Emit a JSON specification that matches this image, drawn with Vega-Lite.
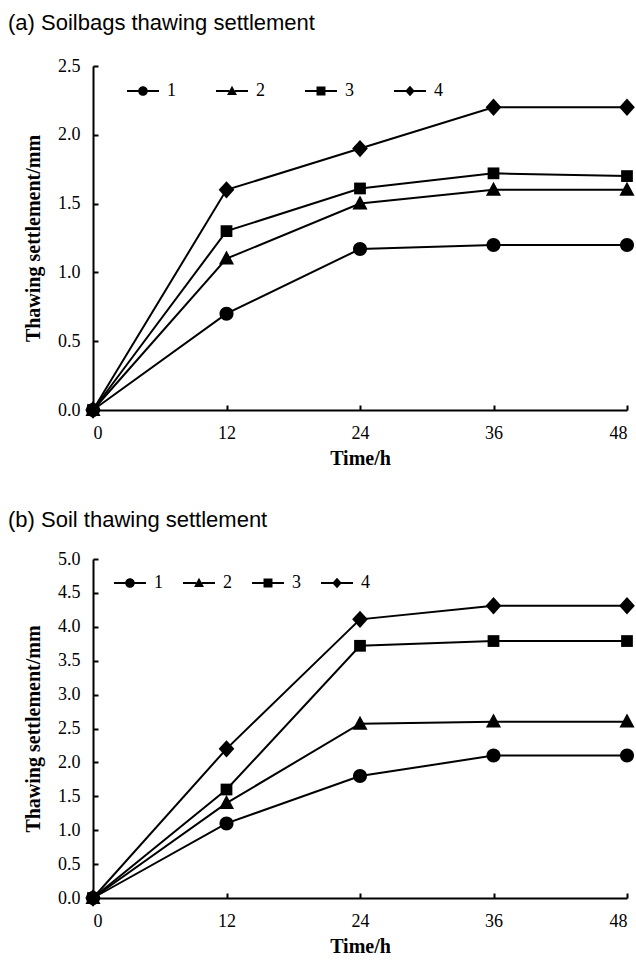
{
  "$schema": "https://vega.github.io/schema/vega-lite/v6.json",
  "background": "white",
  "padding": {"left": 8, "top": 12, "right": 9, "bottom": 5},
  "spacing": 41,
  "config": {
    "view": {"stroke": null},
    "axis": {
      "domainColor": "black", "domainWidth": 2,
      "tickColor": "black", "tickWidth": 2, "tickSize": -5,
      "labelFont": "Liberation Serif", "labelFontSize": 18, "labelColor": "black",
      "titleFont": "Liberation Serif", "titleFontSize": 20, "titleFontWeight": "bold", "titleColor": "black",
      "grid": false
    },
    "axisX": {"labelPadding": 19, "titlePadding": 6},
    "axisY": {"labelPadding": 18, "titlePadding": 14},
    "title": {"font": "Liberation Sans", "fontSize": 22, "fontWeight": "normal", "anchor": "start", "color": "black", "frame": "group"},
    "legend": {
      "orient": "none", "direction": "horizontal", "columns": 4, "title": null,
      "padding": 0, "symbolSize": 1024, "symbolFillColor": "black", "symbolStrokeWidth": 0,
      "labelFont": "Liberation Serif", "labelFontSize": 18,
      "labelColor": "black", "labelOffset": 8
    }
  },
  "resolve": {"scale": {"shape": "independent", "x": "independent", "y": "independent"}, "legend": {"shape": "independent"}},
  "datasets": {
    "a": [
      {"t": 0, "v": 0, "s": "1"}, {"t": 12, "v": 0.7, "s": "1"}, {"t": 24, "v": 1.17, "s": "1"}, {"t": 36, "v": 1.2, "s": "1"}, {"t": 48, "v": 1.2, "s": "1"},
      {"t": 0, "v": 0, "s": "2"}, {"t": 12, "v": 1.1, "s": "2"}, {"t": 24, "v": 1.5, "s": "2"}, {"t": 36, "v": 1.6, "s": "2"}, {"t": 48, "v": 1.6, "s": "2"},
      {"t": 0, "v": 0, "s": "3"}, {"t": 12, "v": 1.3, "s": "3"}, {"t": 24, "v": 1.61, "s": "3"}, {"t": 36, "v": 1.72, "s": "3"}, {"t": 48, "v": 1.7, "s": "3"},
      {"t": 0, "v": 0, "s": "4"}, {"t": 12, "v": 1.6, "s": "4"}, {"t": 24, "v": 1.9, "s": "4"}, {"t": 36, "v": 2.2, "s": "4"}, {"t": 48, "v": 2.2, "s": "4"}
    ],
    "b": [
      {"t": 0, "v": 0, "s": "1"}, {"t": 12, "v": 1.1, "s": "1"}, {"t": 24, "v": 1.8, "s": "1"}, {"t": 36, "v": 2.1, "s": "1"}, {"t": 48, "v": 2.1, "s": "1"},
      {"t": 0, "v": 0, "s": "2"}, {"t": 12, "v": 1.4, "s": "2"}, {"t": 24, "v": 2.57, "s": "2"}, {"t": 36, "v": 2.6, "s": "2"}, {"t": 48, "v": 2.6, "s": "2"},
      {"t": 0, "v": 0, "s": "3"}, {"t": 12, "v": 1.6, "s": "3"}, {"t": 24, "v": 3.72, "s": "3"}, {"t": 36, "v": 3.79, "s": "3"}, {"t": 48, "v": 3.79, "s": "3"},
      {"t": 0, "v": 0, "s": "4"}, {"t": 12, "v": 2.2, "s": "4"}, {"t": 24, "v": 4.11, "s": "4"}, {"t": 36, "v": 4.31, "s": "4"}, {"t": 48, "v": 4.31, "s": "4"}
    ]
  },
  "vconcat": [
    {
      "width": 534, "height": 344,
      "title": {"text": "(a) Soilbags thawing settlement", "dx": -85, "offset": 22},
      "data": {"name": "a"},
      "encoding": {
        "x": {"field": "t", "type": "quantitative", "scale": {"domain": [0, 48]}, "axis": {"values": [0, 12, 24, 36, 48], "title": "Time/h"}},
        "y": {"field": "v", "type": "quantitative", "scale": {"domain": [0, 2.5], "nice": false}, "axis": {"values": [0, 0.5, 1, 1.5, 2, 2.5], "format": ".1f", "title": "Thawing settlement/mm"}}
      },
      "resolve": {"scale": {"shape": "independent"}, "legend": {"shape": "independent"}},
      "layer": [
        {"mark": {"type": "line", "color": "black", "strokeWidth": 2}, "encoding": {"detail": {"field": "s", "type": "nominal"}}},
        {"mark": {"type": "point", "filled": true, "color": "black", "size": 3136, "opacity": 1},
         "encoding": {"shape": {"field": "s", "type": "nominal", "legend": null,
           "scale": {"domain": ["1", "2", "3", "4"], "range": [
             "M0.25,0A0.25,0.25 0 1,1 -0.25,0A0.25,0.25 0 1,1 0.25,0Z",
             "M0,-0.29L0.27,0.21L-0.27,0.21Z",
             "M-0.21,-0.21H0.21V0.21H-0.21Z",
             "M0,-0.31L0.28,0L0,0.31L-0.28,0Z"]}}}},
        {"transform": [{"filter": "false"}],
         "mark": {"type": "point", "filled": true, "color": "black", "opacity": 1},
         "encoding": {"shape": {"field": "s", "type": "nominal",
           "scale": {"domain": ["1", "2", "3", "4"], "range": [
             "M-1,-0.0625H-0.29V0.0625H-1Z M0.29,-0.0625H1V0.0625H0.29Z M0.3,0A0.3,0.3 0 1,1 -0.3,0A0.3,0.3 0 1,1 0.3,0Z",
             "M-1,-0.0625H-0.17V0.0625H-1Z M0.17,-0.0625H1V0.0625H0.17Z M0,-0.33L0.31,0.25L-0.31,0.25Z",
             "M-1,-0.0625H-0.27V0.0625H-1Z M0.27,-0.0625H1V0.0625H0.27Z M-0.28,-0.28H0.28V0.28H-0.28Z",
             "M-1,-0.0625H-0.25V0.0625H-1Z M0.25,-0.0625H1V0.0625H0.25Z M0,-0.33L0.3,0L0,0.33L-0.3,0Z"]},
           "legend": {"legendX": 34, "legendY": 9, "columnPadding": 40}}}}
      ]
    },
    {
      "width": 534, "height": 339,
      "title": {"text": "(b) Soil thawing settlement", "dx": -85, "offset": 18},
      "data": {"name": "b"},
      "encoding": {
        "x": {"field": "t", "type": "quantitative", "scale": {"domain": [0, 48]}, "axis": {"values": [0, 12, 24, 36, 48], "title": "Time/h"}},
        "y": {"field": "v", "type": "quantitative", "scale": {"domain": [0, 5], "nice": false}, "axis": {"values": [0, 0.5, 1, 1.5, 2, 2.5, 3, 3.5, 4, 4.5, 5], "format": ".1f", "title": "Thawing settlement/mm"}}
      },
      "resolve": {"scale": {"shape": "independent"}, "legend": {"shape": "independent"}},
      "layer": [
        {"mark": {"type": "line", "color": "black", "strokeWidth": 2}, "encoding": {"detail": {"field": "s", "type": "nominal"}}},
        {"mark": {"type": "point", "filled": true, "color": "black", "size": 3136, "opacity": 1},
         "encoding": {"shape": {"field": "s", "type": "nominal", "legend": null,
           "scale": {"domain": ["1", "2", "3", "4"], "range": [
             "M0.25,0A0.25,0.25 0 1,1 -0.25,0A0.25,0.25 0 1,1 0.25,0Z",
             "M0,-0.29L0.27,0.21L-0.27,0.21Z",
             "M-0.21,-0.21H0.21V0.21H-0.21Z",
             "M0,-0.31L0.28,0L0,0.31L-0.28,0Z"]}}}},
        {"transform": [{"filter": "false"}],
         "mark": {"type": "point", "filled": true, "color": "black", "opacity": 1},
         "encoding": {"shape": {"field": "s", "type": "nominal",
           "scale": {"domain": ["1", "2", "3", "4"], "range": [
             "M-1,-0.0625H-0.29V0.0625H-1Z M0.29,-0.0625H1V0.0625H0.29Z M0.3,0A0.3,0.3 0 1,1 -0.3,0A0.3,0.3 0 1,1 0.3,0Z",
             "M-1,-0.0625H-0.17V0.0625H-1Z M0.17,-0.0625H1V0.0625H0.17Z M0,-0.33L0.31,0.25L-0.31,0.25Z",
             "M-1,-0.0625H-0.27V0.0625H-1Z M0.27,-0.0625H1V0.0625H0.27Z M-0.28,-0.28H0.28V0.28H-0.28Z",
             "M-1,-0.0625H-0.25V0.0625H-1Z M0.25,-0.0625H1V0.0625H0.25Z M0,-0.33L0.3,0L0,0.33L-0.3,0Z"]},
           "legend": {"legendX": 21, "legendY": 8, "columnPadding": 20}}}}
      ]
    }
  ]
}
